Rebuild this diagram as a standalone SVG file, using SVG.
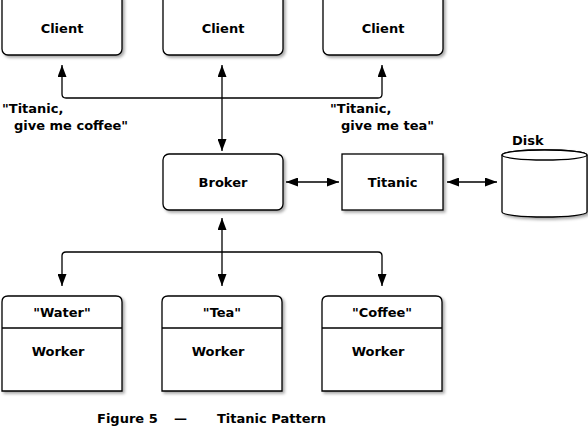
<svg xmlns="http://www.w3.org/2000/svg" width="588" height="428" viewBox="0 0 588 428">
<style>
.box{fill:#fff;stroke:#000;stroke-width:1.3}
.t{font-family:"DejaVu Sans",sans-serif;font-weight:bold;font-size:13px;fill:#000}
.c{text-anchor:middle}
.ln{fill:none;stroke:#000;stroke-width:1.3}
</style>
<defs>
<filter id="sh" x="-10%" y="-10%" width="130%" height="130%">
<feDropShadow dx="2" dy="2" stdDeviation="1.5" flood-color="#000" flood-opacity="0.35"/>
</filter>
<marker id="ah" viewBox="0 0 12 9" refX="12" refY="4.5" markerWidth="12" markerHeight="9" markerUnits="userSpaceOnUse" orient="auto-start-reverse">
<path d="M0,0 L12,4.5 L0,9 z" fill="#000"/>
</marker>
</defs>
<g id="client1"><rect class="box" filter="url(#sh)" x="2" y="-8" width="120" height="63" rx="6"/><text class="t c" x="62" y="33">Client</text></g>
<g id="client2"><rect class="box" filter="url(#sh)" x="163" y="-8" width="120" height="63" rx="6"/><text class="t c" x="223" y="33">Client</text></g>
<g id="client3"><rect class="box" filter="url(#sh)" x="323" y="-8" width="120" height="63" rx="6"/><text class="t c" x="383" y="33">Client</text></g>
<g id="broker"><rect class="box" filter="url(#sh)" x="163" y="154" width="120" height="56" rx="6"/><text class="t c" x="223" y="187">Broker</text></g>
<g id="titanic"><rect class="box" filter="url(#sh)" x="342" y="154" width="101" height="56"/><text class="t c" x="392.5" y="187">Titanic</text></g>
<g id="disk">
<path class="box" filter="url(#sh)" d="M502,155 V212 A42.5,5 0 0 0 587,212 V155 A42.5,5 0 0 0 502,155 Z"/>
<ellipse class="box" cx="544.5" cy="155" rx="42.5" ry="5"/>
<text class="t" x="512" y="145">Disk</text>
</g>
<g id="worker-water"><path class="box" filter="url(#sh)" d="M2,391 V302 Q2,296 8,296 H116 Q122,296 122,302 V391 Z"/><line class="ln" x1="2" y1="328" x2="122" y2="328"/><text class="t c" x="62" y="317">"Water"</text><text class="t c" x="58" y="356">Worker</text></g>
<g id="worker-tea"><path class="box" filter="url(#sh)" d="M162,391 V302 Q162,296 168,296 H276 Q282,296 282,302 V391 Z"/><line class="ln" x1="162" y1="328" x2="282" y2="328"/><text class="t c" x="222" y="317">"Tea"</text><text class="t c" x="218" y="356">Worker</text></g>
<g id="worker-coffee"><path class="box" filter="url(#sh)" d="M322,391 V302 Q322,296 328,296 H436 Q442,296 442,302 V391 Z"/><line class="ln" x1="322" y1="328" x2="442" y2="328"/><text class="t c" x="382" y="317">"Coffee"</text><text class="t c" x="378" y="356">Worker</text></g>
<g id="connectors">
<path class="ln" marker-start="url(#ah)" marker-end="url(#ah)" d="M62,65 V94 Q62,98 66,98 H378 Q382,98 382,94 V65"/>
<line class="ln" marker-start="url(#ah)" marker-end="url(#ah)" x1="222" y1="65" x2="222" y2="151"/>
<line class="ln" marker-start="url(#ah)" marker-end="url(#ah)" x1="222" y1="218" x2="222" y2="286"/>
<path class="ln" marker-start="url(#ah)" marker-end="url(#ah)" d="M62,286 V256 Q62,252 66,252 H378 Q382,252 382,256 V286"/>
<line class="ln" marker-start="url(#ah)" marker-end="url(#ah)" x1="286" y1="182" x2="339" y2="182"/>
<line class="ln" marker-start="url(#ah)" marker-end="url(#ah)" x1="447" y1="182" x2="497" y2="182"/>
</g>
<g id="labels">
<text class="t" x="2" y="113">"Titanic,</text>
<text class="t" x="14" y="130">give me coffee"</text>
<text class="t" x="330" y="113">"Titanic,</text>
<text class="t" x="341" y="130">give me tea"</text>
<text class="t" x="97" y="423" font-size="12">Figure 5</text>
<text class="t" x="174" y="423" font-size="12" font-weight="normal">—</text>
<text class="t" x="217" y="423" font-size="12">Titanic Pattern</text>
</g>
</svg>
